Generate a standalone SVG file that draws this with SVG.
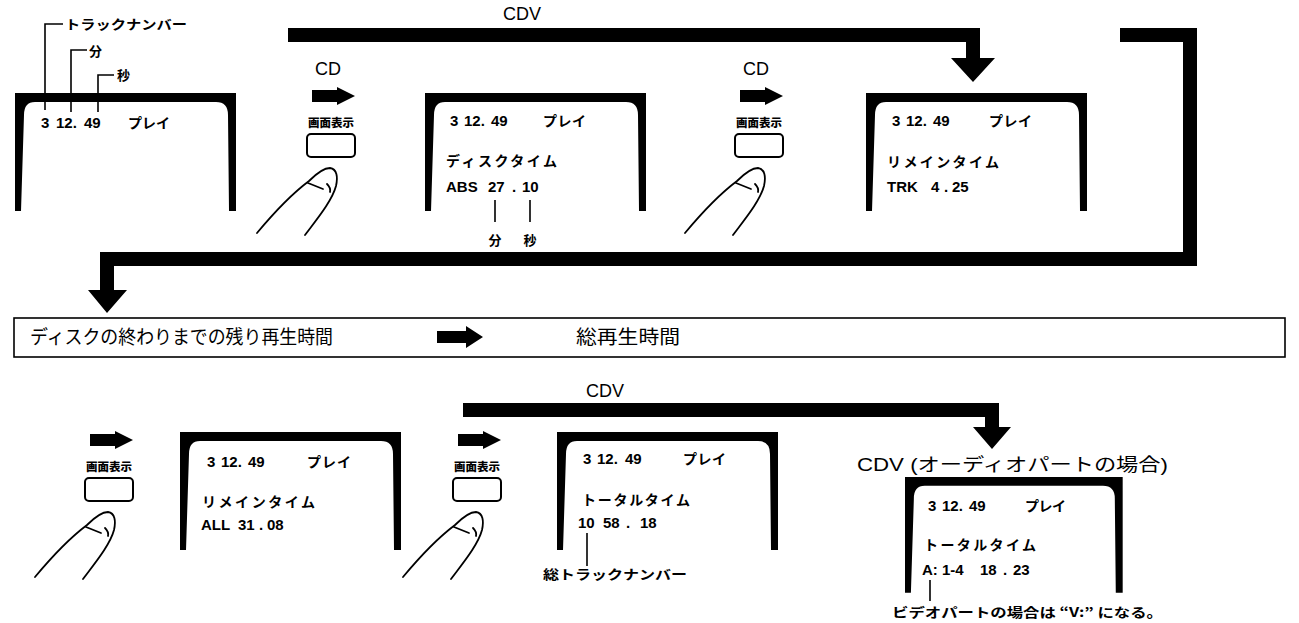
<svg xmlns="http://www.w3.org/2000/svg" xmlns:xlink="http://www.w3.org/1999/xlink" width="1299" height="623" viewBox="0 0 1299 623">
  <style>
    .num { font-family: "Liberation Sans", "Noto Sans CJK JP", sans-serif; font-weight: bold; font-size: 15px; fill: #000; }
    .kana { font-family: "Noto Sans CJK JP", sans-serif; font-weight: bold; font-size: 14px; fill: #000; }
    .lbl { font-family: "Noto Sans CJK JP", sans-serif; font-weight: bold; font-size: 13px; fill: #000; }
    .btnlbl { font-family: "Noto Sans CJK JP", sans-serif; font-weight: 900; font-size: 11px; fill: #000; }
    .head { font-family: "Liberation Sans", "Noto Sans CJK JP", sans-serif; font-size: 18px; fill: #000; }
    .band { font-family: "Noto Sans CJK JP", sans-serif; font-size: 19px; fill: #000; }
    .leader { stroke: #000; stroke-width: 1.6; fill: none; }
    .btn { fill: #fff; stroke: #000; stroke-width: 2; }
    .finger { fill: none; stroke: #000; stroke-width: 1.8; stroke-linecap: round; }
  </style>
  <defs>
    <!-- TV screen bezel: open at the bottom, rounded inner top corners -->
    <path id="screen" d="M0,0 H221 V118 H214 L213,22 Q213,9 201,9 H20 Q9,9 9,22 L6,118 H0 Z" fill="#000"/>
    <!-- small block arrow, origin at left-middle -->
    <path id="arrow" d="M0,-6 H25 V-9 L43,0 L25,9 V6 H0 Z" fill="#000"/>
    <!-- pressing finger, origin at the lower end of the left contour -->
    <g id="finger" class="finger">
      <path d="M0,0 C15,-18 36,-40 52,-52 C59,-59 66,-65 73,-65 C80,-64 81,-56 79,-47 C75,-32 60,-14 48,2"/>
      <path d="M51,-50 C56,-48 61,-46 66,-44"/>
      <path d="M70,-49 C72,-47 74,-45 73,-41"/>
    </g>
    <!-- display-key button with its caption -->
    <g id="key">
      <text class="btnlbl" x="0" y="-7" text-anchor="middle" textLength="46" lengthAdjust="spacingAndGlyphs">画面表示</text>
      <rect class="btn" x="-24" y="0" width="48" height="23" rx="4"/>
    </g>
  </defs>

  <!-- thick routing arrows -->
  <g id="connectors">
    <path d="M288,28 H980 V58 H995 L973,82 L951,58 H966 V42 H288 Z" fill="#000"/>
    <path d="M1120,28 H1197 V266 H114 V290 H127 L107,313 L88,290 H100 V252 H1183 V42 H1120 Z" fill="#000"/>
    <path d="M463,403 H999 V427 H1011 L992,449 L973,427 H985 V417 H463 Z" fill="#000"/>
    <text class="head" x="522" y="20" text-anchor="middle">CDV</text>
    <text class="head" x="605" y="397" text-anchor="middle">CDV</text>
  </g>

  <!-- screen 1: track / min / sec legend -->
  <g id="screen-play">
    <use xlink:href="#screen" x="15" y="93"/>
    <path class="leader" d="M63,24 H45 V110 M87,50 H71 V112 M114,75 H98 V112"/>
    <text class="lbl" x="65" y="29" textLength="122" lengthAdjust="spacingAndGlyphs">トラックナンバー</text>
    <text class="lbl" x="89" y="56">分</text>
    <text class="lbl" x="117" y="80">秒</text>
    <text class="num" y="128" font-size="16"><tspan x="41">3</tspan><tspan x="56">12.</tspan><tspan x="84">49</tspan></text>
    <text class="kana" x="128" y="128" textLength="42">プレイ</text>
  </g>

  <!-- key press 1 (CD) -->
  <g id="press-1">
    <text class="head" x="328" y="75" text-anchor="middle">CD</text>
    <use xlink:href="#arrow" x="312" y="96"/>
    <use xlink:href="#key" x="331" y="134"/>
    <use xlink:href="#finger" x="257" y="233"/>
  </g>

  <!-- screen 2: disc time -->
  <g id="screen-disc-time">
    <use xlink:href="#screen" x="425" y="93"/>
    <text class="num" y="126"><tspan x="450">3</tspan><tspan x="464">12.</tspan><tspan x="491">49</tspan></text>
    <text class="kana" x="543" y="126" textLength="43">プレイ</text>
    <text class="kana" x="446" y="166" textLength="111">ディスクタイム</text>
    <text class="num" y="192"><tspan x="446">ABS</tspan><tspan x="488">27</tspan><tspan x="512">.</tspan><tspan x="522">10</tspan></text>
    <path class="leader" d="M495,200 V222 M530,200 V222"/>
    <text class="lbl" x="495" y="245" text-anchor="middle">分</text>
    <text class="lbl" x="530" y="245" text-anchor="middle">秒</text>
  </g>

  <!-- key press 2 (CD) -->
  <g id="press-2">
    <text class="head" x="756" y="75" text-anchor="middle">CD</text>
    <use xlink:href="#arrow" x="740" y="96"/>
    <use xlink:href="#key" x="759" y="134"/>
    <use xlink:href="#finger" x="685" y="233"/>
  </g>

  <!-- screen 3: track remaining time -->
  <g id="screen-track-remain">
    <use xlink:href="#screen" x="866" y="93"/>
    <text class="num" y="126"><tspan x="892">3</tspan><tspan x="906">12.</tspan><tspan x="933">49</tspan></text>
    <text class="kana" x="989" y="126" textLength="43">プレイ</text>
    <text class="kana" x="887" y="167" textLength="112">リメインタイム</text>
    <text class="num" y="192"><tspan x="887">TRK</tspan><tspan x="931">4</tspan><tspan x="944">.</tspan><tspan x="952">25</tspan></text>
  </g>

  <!-- caption band -->
  <g id="band">
    <rect x="14" y="318" width="1271" height="39" fill="#fff" stroke="#000" stroke-width="1.6"/>
    <text class="band" x="30" y="344" textLength="303" lengthAdjust="spacingAndGlyphs">ディスクの終わりまでの残り再生時間</text>
    <path d="M437,331 H466 V326 L483,337 L466,348 V343 H437 Z" fill="#000"/>
    <text class="band" x="576" y="344" textLength="104" lengthAdjust="spacingAndGlyphs">総再生時間</text>
  </g>

  <!-- key press 3 -->
  <g id="press-3">
    <use xlink:href="#arrow" x="90" y="440"/>
    <use xlink:href="#key" x="109" y="478"/>
    <use xlink:href="#finger" x="35" y="577"/>
  </g>

  <!-- screen 4: disc remaining time -->
  <g id="screen-all-remain">
    <use xlink:href="#screen" x="180" y="432"/>
    <text class="num" y="467"><tspan x="207">3</tspan><tspan x="221">12.</tspan><tspan x="248">49</tspan></text>
    <text class="kana" x="307" y="467" textLength="44">プレイ</text>
    <text class="kana" x="202" y="507" textLength="113">リメインタイム</text>
    <text class="num" y="530"><tspan x="201">ALL</tspan><tspan x="238">31</tspan><tspan x="259">.</tspan><tspan x="267">08</tspan></text>
  </g>

  <!-- key press 4 -->
  <g id="press-4">
    <use xlink:href="#arrow" x="458" y="440"/>
    <use xlink:href="#key" x="477" y="478"/>
    <use xlink:href="#finger" x="403" y="577"/>
  </g>

  <!-- screen 5: total time -->
  <g id="screen-total">
    <use xlink:href="#screen" x="557" y="432"/>
    <text class="num" y="464"><tspan x="583">3</tspan><tspan x="597">12.</tspan><tspan x="625">49</tspan></text>
    <text class="kana" x="683" y="464" textLength="43">プレイ</text>
    <text class="kana" x="582" y="505" textLength="108">トータルタイム</text>
    <text class="num" y="528"><tspan x="578">10</tspan><tspan x="603">58</tspan><tspan x="626">.</tspan><tspan x="640">18</tspan></text>
    <path class="leader" d="M587,533 V566"/>
    <text class="lbl" x="543" y="579" textLength="144" lengthAdjust="spacingAndGlyphs">総トラックナンバー</text>
  </g>

  <!-- screen 6: CDV audio part total time -->
  <g id="screen-cdv-audio">
    <text class="head" x="857" y="471" font-size="20" textLength="311" lengthAdjust="spacingAndGlyphs">CDV (オーディオパートの場合)</text>
    <use xlink:href="#screen" x="905" y="477" transform="translate(905,477) scale(0.985,0.98) translate(-905,-477)"/>
    <text class="num" y="511"><tspan x="928">3</tspan><tspan x="942">12.</tspan><tspan x="969">49</tspan></text>
    <text class="kana" x="1025" y="511" textLength="41">プレイ</text>
    <text class="kana" x="924" y="550" textLength="112">トータルタイム</text>
    <text class="num" y="575"><tspan x="922">A:</tspan><tspan x="942">1-4</tspan><tspan x="980">18</tspan><tspan x="1003">.</tspan><tspan x="1013">23</tspan></text>
    <path class="leader" d="M930,580 V601"/>
    <text class="lbl" x="892" y="617" textLength="271" lengthAdjust="spacingAndGlyphs">ビデオパートの場合は “V:” になる。</text>
  </g>
</svg>
